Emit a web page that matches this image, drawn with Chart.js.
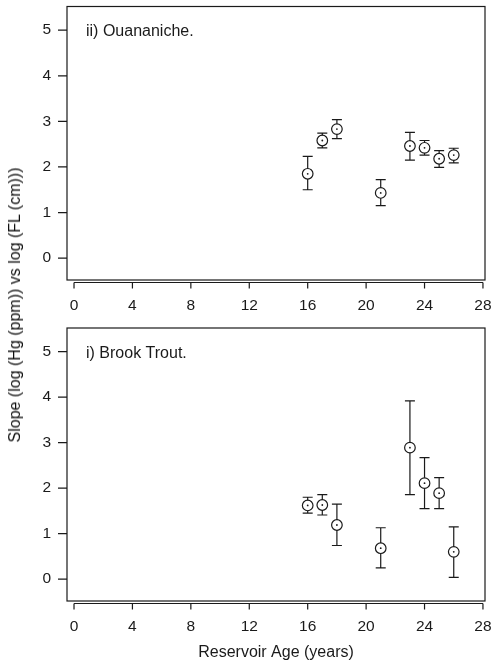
<!DOCTYPE html>
<html><head><meta charset="utf-8">
<script src="https://cdn.jsdelivr.net/npm/chart.js@4/dist/chart.umd.min.js"></script>
<style>
body{margin:0;background:#fff;width:495px;height:662px;position:relative;overflow:hidden}
.wrap{position:absolute;left:0;width:495px}
#yt{position:absolute;left:15px;top:305px;transform:translate(-50%,-50%) rotate(-90deg);white-space:nowrap;font:16px "Liberation Sans",Arial,sans-serif;color:#111}
</style></head><body>
<div class="wrap" style="top:0;height:320px"><canvas id="top"></canvas></div>
<div class="wrap" style="top:320px;height:342px"><canvas id="bot"></canvas></div>
<div id="yt">Slope (log (Hg (ppm)) vs log (FL (cm)))</div>
<script>
// ---- data ----
const ages = [16, 17, 18, 21, 23, 24, 25, 26];
const ouanSlope = [1.85, 2.58, 2.83, 1.43, 2.46, 2.42, 2.18, 2.26];
const ouanLow   = [1.50, 2.42, 2.62, 1.15, 2.15, 2.26, 1.99, 2.09];
const ouanHigh  = [2.23, 2.74, 3.04, 1.72, 2.76, 2.58, 2.36, 2.41];
const troutSlope = [1.62, 1.63, 1.19, 0.68, 2.89, 2.11, 1.89, 0.60];
const troutLow   = [1.45, 1.41, 0.74, 0.25, 1.86, 1.55, 1.55, 0.04];
const troutHigh  = [1.80, 1.86, 1.65, 1.13, 3.92, 2.67, 2.23, 1.15];
const xTicks = [0, 4, 8, 12, 16, 20, 24, 28];
const yTicks = [0, 1, 2, 3, 4, 5];
const panelLabels = ['ii) Ouananiche.', 'i) Brook Trout.'];
const xTitle = 'Reservoir Age (years)';

const INK = '#1a1a1a';
const FONT = '"Liberation Sans", Arial, sans-serif';

function zeroPad(s) { s.paddingLeft = 0; s.paddingRight = 0; s.paddingTop = 0; s.paddingBottom = 0; }

const framePlugin = {
  id: 'frame',
  beforeDatasetsDraw(chart) {
    const {ctx, chartArea: a, scales: {x, y}} = chart;
    ctx.save();
    ctx.strokeStyle = INK;
    ctx.lineWidth = 1.2;
    ctx.strokeRect(a.left, a.top, a.right - a.left, a.bottom - a.top);
    const xl = a.bottom + 2.5;
    const x0 = x.getPixelForValue(xTicks[0]);
    const x1 = x.getPixelForValue(xTicks[xTicks.length - 1]);
    ctx.beginPath();
    ctx.moveTo(x0, xl); ctx.lineTo(x1, xl);
    xTicks.forEach(v => { const px = x.getPixelForValue(v); ctx.moveTo(px, xl); ctx.lineTo(px, xl + 6); });
    yTicks.forEach(v => { const py = y.getPixelForValue(v); ctx.moveTo(a.left, py); ctx.lineTo(a.left - 9, py); });
    ctx.stroke();
    const ds = chart.data.datasets[0];
    ctx.lineWidth = 1.2;
    ctx.beginPath();
    ds.data.forEach((p, i) => {
      const px = x.getPixelForValue(p.x);
      const lo = y.getPixelForValue(ds.errLow[i]);
      const hi = y.getPixelForValue(ds.errHigh[i]);
      ctx.moveTo(px, lo); ctx.lineTo(px, hi);
      ctx.moveTo(px - 5, lo); ctx.lineTo(px + 5, lo);
      ctx.moveTo(px - 5, hi); ctx.lineTo(px + 5, hi);
    });
    ctx.stroke();
    ctx.restore();
  },
  afterDatasetsDraw(chart) {
    const {ctx, chartArea: a, scales: {x, y}} = chart;
    const ds = chart.data.datasets[0];
    ctx.save();
    ctx.fillStyle = INK;
    ds.data.forEach(p => {
      const px = x.getPixelForValue(p.x), py = y.getPixelForValue(p.y);
      ctx.beginPath(); ctx.arc(px, py, 0.9, 0, Math.PI * 2); ctx.fill();
    });
    ctx.font = '16px ' + FONT;
    ctx.textBaseline = 'middle';
    ctx.textAlign = 'left';
    ctx.fillText(chart.options.plugins.frame.label, a.left + 19, y.getPixelForValue(5) + 1.5);
    ctx.restore();
  }
};

function makeChart(id, vals, lo, hi, label, padTop, xHeight, showTitle) {
  return new Chart(document.getElementById(id), {
    type: 'scatter',
    data: {
      datasets: [{
        data: ages.map((a, i) => ({x: a, y: vals[i]})),
        errLow: lo, errHigh: hi,
        pointRadius: 5.3, pointHoverRadius: 5.3,
        pointBorderWidth: 1.2, pointBackgroundColor: '#fff', pointBorderColor: INK
      }]
    },
    options: {
      responsive: true, maintainAspectRatio: false, animation: false,
      layout: {padding: {top: padTop, right: 10, left: 0, bottom: 0}},
      plugins: {legend: {display: false}, tooltip: {enabled: false}, frame: {label}},
      scales: {
        x: {
          type: 'linear', min: -0.48, max: 28.14,
          afterBuildTicks: s => { s.ticks = xTicks.map(v => ({value: v})); },
          afterFit: s => { s.height = xHeight; zeroPad(s); },
          grid: {display: false, drawTicks: false}, border: {display: false},
          ticks: {padding: 16, color: INK, font: {family: FONT, size: 15.5}, maxRotation: 0, autoSkip: false},
          title: {display: showTitle, text: xTitle, color: INK, font: {family: FONT, size: 16}, padding: {top: 0, bottom: 0}}
        },
        y: {
          type: 'linear', min: -0.48, max: 5.52,
          afterBuildTicks: s => { s.ticks = yTicks.map(v => ({value: v})); },
          afterFit: s => { s.width = 67; zeroPad(s); },
          grid: {display: false, drawTicks: false}, border: {display: false},
          ticks: {padding: 16, color: INK, font: {family: FONT, size: 15.5}}
        }
      }
    },
    plugins: [framePlugin]
  });
}

makeChart('top', ouanSlope, ouanLow, ouanHigh, panelLabels[0], 5, 40, false);
makeChart('bot', troutSlope, troutLow, troutHigh, panelLabels[1], 8, 61, true);
</script>
</body></html>
